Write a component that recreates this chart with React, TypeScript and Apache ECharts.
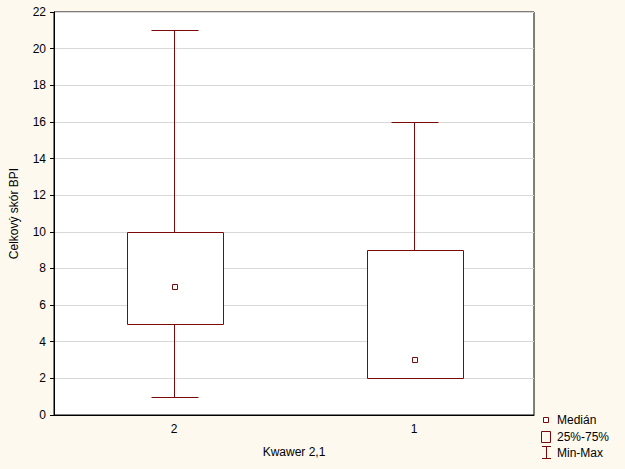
import React, { useEffect, useRef } from "react";
import * as echarts from "echarts";

const categories = ["2", "1"];
const minValues = [1, 2];
const q1Values = [5, 2];
const medianValues = [7, 3];
const q3Values = [10, 9];
const maxValues = [21, 16];

const yTicks = { min: 0, max: 22, interval: 2 };
const legendLabels = ["Medián", "25%-75%", "Min-Max"];

const DARK = "#7a0a0a";
const FONT = "Liberation Sans, Arial, sans-serif";

export default function App() {
  const ref = useRef<HTMLDivElement>(null);
  useEffect(() => {
    document.body.style.margin = "0";
    const chart = echarts.init(ref.current!, null, { renderer: "svg" });
    const data = categories.map((_, i) => [
      i,
      minValues[i],
      q1Values[i],
      medianValues[i],
      q3Values[i],
      maxValues[i],
    ]);
    const crisp = (v: number) => Math.round(v) + 0.5;
    const option: any = {
      animation: false,
      backgroundColor: "#FDF9EF",
      textStyle: { fontFamily: FONT },
      grid: {
        left: 53,
        top: 12,
        right: 91,
        bottom: 54,
        show: true,
        backgroundColor: "#ffffff",
        borderColor: "#000000",
        borderWidth: 1,
      },
      xAxis: {
        type: "category",
        data: categories,
        boundaryGap: true,
        name: "Kwawer 2,1",
        nameLocation: "middle",
        nameGap: 31,
        nameTextStyle: { color: "#000", fontSize: 12, fontFamily: FONT },
        axisLine: { lineStyle: { color: "#000", width: 1 } },
        axisTick: { alignWithLabel: true, length: 4, lineStyle: { color: "#000" } },
        axisLabel: { color: "#000", fontSize: 12, margin: 8, fontFamily: FONT },
        splitLine: { show: false },
      },
      yAxis: {
        type: "value",
        min: yTicks.min,
        max: yTicks.max,
        interval: yTicks.interval,
        name: "Celkový skór BPI",
        nameLocation: "middle",
        nameGap: 34,
        nameTextStyle: { color: "#000", fontSize: 12, fontFamily: FONT },
        axisLine: { show: true, lineStyle: { color: "#000", width: 1 } },
        axisTick: { show: true, length: 4, lineStyle: { color: "#000" } },
        axisLabel: { color: "#000", fontSize: 12, margin: 8, fontFamily: FONT },
        splitLine: { show: true, lineStyle: { color: "#d8d8d8", width: 1 } },
      },
      series: [
        {
          type: "custom",
          data,
          encode: { x: 0, y: [1, 2, 3, 4, 5] },
          renderItem: (params: any, api: any) => {
            const idx = api.value(0);
            const band = api.size([1, 0])[0];
            const pMin = api.coord([idx, api.value(1)]);
            const pQ1 = api.coord([idx, api.value(2)]);
            const pMed = api.coord([idx, api.value(3)]);
            const pQ3 = api.coord([idx, api.value(4)]);
            const pMax = api.coord([idx, api.value(5)]);
            const cx = crisp(pMin[0]);
            const boxHalf = band * 0.2;
            const capHalf = band * 0.098;
            const lineStyle = { stroke: DARK, lineWidth: 1, fill: "none" };
            const children: any[] = [
              {
                type: "line",
                shape: { x1: cx, y1: crisp(pMax[1]), x2: cx, y2: crisp(pQ3[1]) },
                style: lineStyle,
              },
              {
                type: "line",
                shape: { x1: cx, y1: crisp(pQ1[1]), x2: cx, y2: crisp(pMin[1]) },
                style: lineStyle,
              },
              {
                type: "line",
                shape: {
                  x1: crisp(cx - capHalf),
                  y1: crisp(pMax[1]),
                  x2: crisp(cx + capHalf),
                  y2: crisp(pMax[1]),
                },
                style: lineStyle,
              },
              {
                type: "line",
                shape: {
                  x1: crisp(cx - capHalf),
                  y1: crisp(pMin[1]),
                  x2: crisp(cx + capHalf),
                  y2: crisp(pMin[1]),
                },
                style: lineStyle,
              },
              {
                type: "rect",
                shape: {
                  x: crisp(cx - boxHalf),
                  y: crisp(pQ3[1]),
                  width: Math.round(boxHalf * 2),
                  height: Math.round(pQ1[1] - pQ3[1]),
                },
                style: { stroke: DARK, lineWidth: 1, fill: "#ffffff" },
              },
              {
                type: "rect",
                shape: {
                  x: crisp(cx - 3),
                  y: crisp(pMed[1] - 3),
                  width: 5,
                  height: 5,
                },
                style: { stroke: DARK, lineWidth: 1, fill: "#ffffff" },
              },
            ];
            return { type: "group", children };
          },
        },
      ],
      graphic: [
        {
          type: "rect",
          shape: { x: 543.5, y: 417.5, width: 5, height: 5 },
          style: { stroke: DARK, lineWidth: 1, fill: "#ffffff" },
        },
        {
          type: "text",
          x: 557,
          y: 420,
          style: {
            text: legendLabels[0],
            fontSize: 12,
            fontFamily: FONT,
            fill: "#000",
            verticalAlign: "middle",
          },
        },
        {
          type: "rect",
          shape: { x: 541.5, y: 431.5, width: 9, height: 11 },
          style: { stroke: DARK, lineWidth: 1, fill: "none" },
        },
        {
          type: "text",
          x: 557,
          y: 437,
          style: {
            text: legendLabels[1],
            fontSize: 12,
            fontFamily: FONT,
            fill: "#000",
            verticalAlign: "middle",
          },
        },
        {
          type: "line",
          shape: { x1: 546.5, y1: 446.5, x2: 546.5, y2: 458.5 },
          style: { stroke: DARK, lineWidth: 1 },
        },
        {
          type: "line",
          shape: { x1: 542, y1: 446.5, x2: 551, y2: 446.5 },
          style: { stroke: DARK, lineWidth: 1 },
        },
        {
          type: "line",
          shape: { x1: 542, y1: 458.5, x2: 551, y2: 458.5 },
          style: { stroke: DARK, lineWidth: 1 },
        },
        {
          type: "text",
          x: 557,
          y: 453,
          style: {
            text: legendLabels[2],
            fontSize: 12,
            fontFamily: FONT,
            fill: "#000",
            verticalAlign: "middle",
          },
        },
      ],
    };
    chart.setOption(option);
    return () => chart.dispose();
  }, []);
  return <div ref={ref} style={{ width: 625, height: 469 }} />;
}
